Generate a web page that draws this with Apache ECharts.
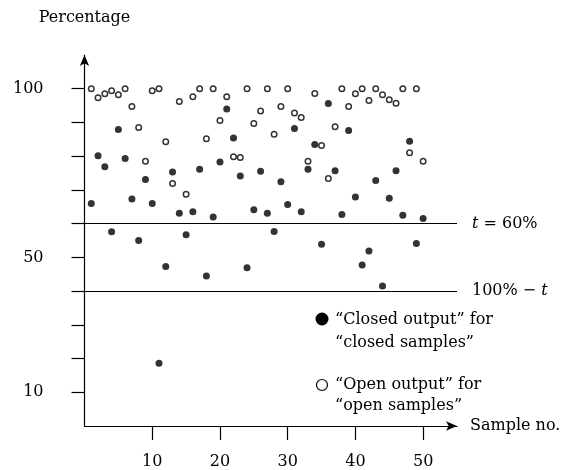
<!DOCTYPE html>
<html>
<head>
<meta charset="utf-8">
<script src="https://cdn.jsdelivr.net/npm/echarts@6/dist/echarts.min.js"></script>
<style>
  html, body { margin: 0; padding: 0; background: #fff; }
  #chart { width: 571px; height: 470px; }
</style>
</head>
<body>
<div id="chart"></div>
<script>
/* sample numbers and the two output series (percent) */
const samples = [1, 2, 3, 4, 5, 6, 7, 8, 9, 10, 11, 12, 13, 14, 15, 16, 17, 18, 19, 20,
  21, 22, 23, 24, 25, 26, 27, 28, 29, 30, 31, 32, 33, 34, 35, 36, 37, 38, 39, 40,
  41, 42, 43, 44, 45, 46, 47, 48, 49, 50];
const openValues = [100, 97.3, 98.5, 99.4, 98.2, 100, 94.7, 88.5, 78.5, 99.4,
  100, 84.3, 71.9, 96.2, 68.7, 97.6, 100, 85.2, 100, 90.6,
  97.6, 79.8, 79.6, 100, 89.7, 93.4, 100, 86.5, 94.7, 100,
  92.8, 91.5, 78.5, 98.6, 83.2, 73.4, 88.7, 100, 94.7, 98.5,
  100, 96.5, 100, 98.2, 96.7, 95.7, 100, 81, 100, 78.5];
const closedValues = [66, 80.1, 76.9, 57.6, 87.9, 79.3, 67.3, 55, 73.1, 66,
  18.6, 47.3, 75.3, 63.1, 56.7, 63.5, 76.1, 44.5, 62, 78.3,
  94, 85.4, 74.1, 46.9, 64.1, 75.5, 63.1, 57.7, 72.4, 65.7,
  88.2, 63.5, 76.1, 83.5, 53.9, 95.6, 75.7, 62.7, 87.6, 67.9,
  47.7, 51.9, 72.8, 41.5, 67.5, 75.7, 62.5, 84.4, 54.1, 61.5];
const xTicks = [10, 20, 30, 40, 50];
const yTicks = [10, 20, 30, 40, 50, 60, 70, 80, 90, 100];
const yLabels = [10, 50, 100];
const threshold = 60;

const FONT = '"DejaVu Serif", "Liberation Serif", serif';
const FS = 16;
const black = '#000';

const chart = echarts.init(document.getElementById('chart'));

const option = {
  animation: false,
  grid: { left: 84.5, right: 114, top: 55, bottom: 42.5 },
  textStyle: { fontFamily: FONT, color: black },
  xAxis: {
    type: 'value', min: 0, max: 55,
    name: 'Sample no.', nameLocation: 'end', nameGap: 13,
    nameTextStyle: { fontFamily: FONT, fontSize: FS, color: black },
    axisLine: { symbol: ['none', 'arrow'], symbolSize: [7, 11], lineStyle: { color: black, width: 1.2 } },
    axisTick: { customValues: xTicks, length: 14, lineStyle: { color: black, width: 1.2 } },
    axisLabel: { customValues: xTicks, margin: 28, fontFamily: FONT, fontSize: FS, color: black },
    splitLine: { show: false }
  },
  yAxis: {
    type: 'value', min: 0, max: 110,
    name: 'Percentage', nameLocation: 'end', nameGap: 29,
    nameTextStyle: { fontFamily: FONT, fontSize: FS, color: black },
    axisLine: { symbol: ['none', 'arrow'], symbolSize: [7, 11], lineStyle: { color: black, width: 1.2 } },
    axisTick: { customValues: yTicks, length: 13, lineStyle: { color: black, width: 1.2 } },
    axisLabel: { customValues: yLabels, margin: 41, fontFamily: FONT, fontSize: FS, color: black },
    splitLine: { show: false }
  },
  series: [
    {
      name: 'open', type: 'scatter',
      data: samples.map((s, i) => [s, openValues[i]]),
      symbol: 'circle', symbolSize: 5.5,
      itemStyle: { color: '#fff', borderColor: black, borderWidth: 1.5 },
      markLine: {
        silent: true, symbol: 'none',
        lineStyle: { color: black, width: 1.2, type: 'solid' },
        label: {
          position: 'end', distance: 15, fontFamily: FONT, fontSize: FS, color: black,
          rich: { i: { fontFamily: FONT, fontSize: FS, fontStyle: 'italic', color: black } }
        },
        data: [
          { yAxis: threshold, label: { formatter: '{i|t} = 60%' } },
          { yAxis: 100 - threshold, label: { formatter: '100% − {i|t}' } }
        ]
      }
    },
    {
      name: 'closed', type: 'scatter',
      data: samples.map((s, i) => [s, closedValues[i]]),
      symbol: 'circle', symbolSize: 7,
      itemStyle: { color: black }
    }
  ],
  /* hand placed key, like the original */
  graphic: [
    { type: 'circle', shape: { cx: 322, cy: 319, r: 6.5 }, style: { fill: black } },
    { type: 'text', left: 335, top: 308, style: { text: '“Closed output” for\n“closed samples”', font: FS + 'px ' + FONT, fill: black, lineHeight: 23 } },
    { type: 'circle', shape: { cx: 322, cy: 385, r: 5.5 }, style: { fill: '#fff', stroke: black, lineWidth: 1.2 } },
    { type: 'text', left: 335, top: 374, style: { text: '“Open output” for\n“open samples”', font: FS + 'px ' + FONT, fill: black, lineHeight: 21 } }
  ]
};

chart.setOption(option);
</script>
</body>
</html>
